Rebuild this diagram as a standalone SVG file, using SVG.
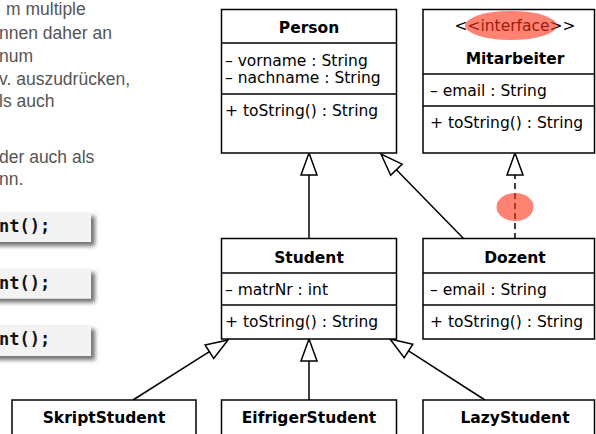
<svg xmlns="http://www.w3.org/2000/svg" width="596" height="434" viewBox="0 0 596 434">
<defs>
<style>
.box{fill:#fff;stroke:#000;stroke-width:1.5}
.div{stroke:#000;stroke-width:1.5}
.t{font-family:"DejaVu Sans",sans-serif;font-size:15.5px;fill:#000}
.h{font-family:"DejaVu Sans",sans-serif;font-size:15.5px;font-weight:bold;fill:#000;text-anchor:middle}
.g{font-family:"Liberation Sans",Arial,sans-serif;font-size:17.5px;fill:#555}
.c{font-family:"DejaVu Sans Mono",monospace;font-size:17px;font-weight:bold;fill:#111}
.code{fill:#f3f3f3}
.ln{stroke:#000;stroke-width:1.5;fill:none}
.dash{stroke:#000;stroke-width:1.5;fill:none;stroke-dasharray:6 4}
.tri{fill:#fff;stroke:#000;stroke-width:1.5;stroke-linejoin:miter}
.hl{fill:#ff2f16;fill-opacity:0.6}
</style>
<filter id="sh" x="-20%" y="-30%" width="150%" height="180%">
<feDropShadow dx="4" dy="4" stdDeviation="2" flood-color="#000" flood-opacity="0.55"/>
</filter>
</defs>

<g id="text-left">
<text class="g" x="6" y="15">m multiple</text>
<text class="g" x="-1" y="38.5">nnen daher an</text>
<text class="g" x="-1" y="61.5">num</text>
<text class="g" x="-1" y="84.5">v. auszudrücken,</text>
<text class="g" x="-1" y="107">ls auch</text>
<text class="g" x="-1" y="163">der auch als</text>
<text class="g" x="-1" y="185">nn.</text>
</g>

<g id="code1">
<rect class="code" x="-10" y="212" width="101" height="30" filter="url(#sh)"/>
<text class="c" x="-1" y="232">nt();</text>
</g>
<g id="code2">
<rect class="code" x="-10" y="268.5" width="101" height="30" filter="url(#sh)"/>
<text class="c" x="-1" y="288.5">nt();</text>
</g>
<g id="code3">
<rect class="code" x="-10" y="325" width="101" height="31" filter="url(#sh)"/>
<text class="c" x="-1" y="345">nt();</text>
</g>

<g id="connectors">
<line class="ln" x1="309" y1="239" x2="309" y2="175"/>
<polygon class="tri" points="309,153 301,175 317,175"/>
<line class="ln" x1="464" y1="239" x2="396.4" y2="169.7"/>
<polygon class="tri" points="381,154 390.7,175.3 402.1,164.1"/>
<line class="dash" x1="515" y1="239" x2="515" y2="175"/>
<polygon class="tri" points="515,153 507,175 523,175"/>
<line class="ln" x1="133" y1="400" x2="209.4" y2="351.7"/>
<polygon class="tri" points="228,340 213.7,358.5 205.1,344.9"/>
<line class="ln" x1="309" y1="400" x2="309" y2="361"/>
<polygon class="tri" points="309,339 301,361 317,361"/>
<line class="ln" x1="485" y1="400" x2="408.5" y2="350.9"/>
<polygon class="tri" points="390,339 404.2,357.6 412.8,344.2"/>
</g>

<g id="Person">
<rect class="box" x="221.5" y="9.5" width="175" height="143.5"/>
<line class="div" x1="221.5" y1="43" x2="396.5" y2="43"/>
<line class="div" x1="221.5" y1="94" x2="396.5" y2="94"/>
<text class="h" x="309" y="33">Person</text>
<text class="t" x="225" y="66">– vorname : String</text>
<text class="t" x="225" y="83">– nachname : String</text>
<text class="t" x="225" y="116">+ toString() : String</text>
</g>

<g id="Mitarbeiter">
<rect class="box" x="423" y="9.5" width="171.5" height="143.5"/>
<line class="div" x1="423" y1="74" x2="594.5" y2="74"/>
<line class="div" x1="423" y1="106" x2="594.5" y2="106"/>
<text class="t" x="515" y="31" text-anchor="middle">&lt;&lt;interface&gt;&gt;</text>
<text class="h" x="515" y="64">Mitarbeiter</text>
<text class="t" x="430" y="96">– email : String</text>
<text class="t" x="430" y="128">+ toString() : String</text>
</g>

<g id="Student">
<rect class="box" x="221.5" y="238.5" width="175" height="100.5"/>
<line class="div" x1="221.5" y1="273" x2="396.5" y2="273"/>
<line class="div" x1="221.5" y1="305" x2="396.5" y2="305"/>
<text class="h" x="309" y="263">Student</text>
<text class="t" x="225" y="295">– matrNr : int</text>
<text class="t" x="225" y="327">+ toString() : String</text>
</g>

<g id="Dozent">
<rect class="box" x="423" y="238.5" width="171.5" height="100.5"/>
<line class="div" x1="423" y1="273" x2="594.5" y2="273"/>
<line class="div" x1="423" y1="305" x2="594.5" y2="305"/>
<text class="h" x="515" y="263">Dozent</text>
<text class="t" x="430" y="295">– email : String</text>
<text class="t" x="430" y="327">+ toString() : String</text>
</g>

<g id="SkriptStudent">
<rect class="box" x="12" y="400" width="184" height="50"/>
<text class="h" x="104" y="423">SkriptStudent</text>
</g>
<g id="EifrigerStudent">
<rect class="box" x="221.5" y="400" width="175" height="50"/>
<text class="h" x="309" y="423">EifrigerStudent</text>
</g>
<g id="LazyStudent">
<rect class="box" x="423" y="400" width="171.5" height="50"/>
<text class="h" x="515" y="423">LazyStudent</text>
</g>

<g id="highlights">
<ellipse class="hl" cx="511" cy="25.5" rx="46" ry="14.5"/>
<ellipse class="hl" cx="515" cy="207" rx="18.5" ry="14"/>
</g>
</svg>
